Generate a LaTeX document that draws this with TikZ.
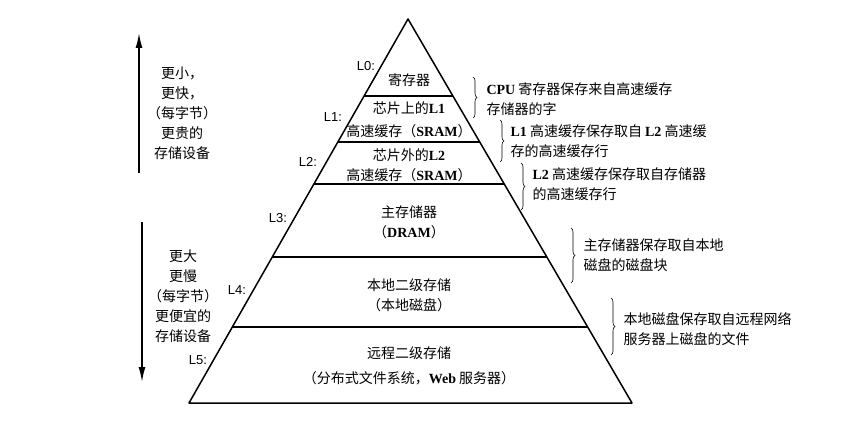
\documentclass[tikz,border=0pt]{standalone}
\usepackage{fontspec}
\setmainfont{Liberation Serif}
\newfontfamily\cjk{Noto Sans CJK SC}
\newfontfamily\lvlfont{Liberation Sans}
\newcommand{\enb}[1]{{\rmfamily\bfseries #1}}
\usetikzlibrary{arrows.meta, calc, decorations.pathreplacing}

\begin{document}
\begin{tikzpicture}[x=1pt, y=-1pt,
    edge/.style={line width=1.5pt},
    lvl/.style={font=\lvlfont\fontsize{13}{13}\selectfont},
    txt/.style={font=\cjk\fontsize{14}{20}\selectfont, align=center},
    note/.style={font=\cjk\fontsize{14}{20}\selectfont, align=left, anchor=west},
    brc/.style={decorate, decoration={brace, amplitude=4pt}, line width=0.6pt},
    bigarrow/.style={line width=1.5pt, -{Latex[length=15pt, width=7pt]}}]
    \useasboundingbox (0, 0) rectangle (846, 428);

    \coordinate (apex) at (408, 19);
    \coordinate (bl) at (189, 403);
    \coordinate (br) at (632, 403);
    \draw[edge, line join=round] (apex) -- (br) -- (bl) -- cycle;
    \foreach \f in {0.2005, 0.3203, 0.4297, 0.6198, 0.8021}
        \draw[edge] ($(apex)!\f!(bl)$) -- ($(apex)!\f!(br)$);

    \node[lvl] (L0) at (366, 66) {L0:};
    \node[lvl] (L1) at (333, 117) {L1:};
    \node[lvl] (L2) at (308, 162) {L2:};
    \node[lvl] (L3) at (278, 218) {L3:};
    \node[lvl] (L4) at (237, 290) {L4:};
    \node[lvl] (L5) at (198, 360) {L5:};

    \node[txt] (t0) at (409, 80) {寄存器};
    \node[txt] (t1) at (409, 120) {芯片上的\enb{L1}\\[3pt]高速缓存（\enb{SRAM}）};
    \node[txt] (t2) at (409, 165) {芯片外的\enb{L2}\\高速缓存（\enb{SRAM}）};
    \node[txt] (t3) at (409, 222) {主存储器\\（\enb{DRAM}）};
    \node[txt] (t4) at (409, 295.5) {本地二级存储\\（本地磁盘）};
    \node[txt] (t5) at (409, 365.5) {远程二级存储\\[5pt]（分布式文件系统，\enb{Web} 服务器）};

    \coordinate (b0t) at (473, 77);
    \coordinate (b0b) at (473, 118);
    \coordinate (b1t) at (500, 120);
    \coordinate (b1b) at (500, 162);
    \coordinate (b2t) at (521, 163);
    \coordinate (b2b) at (521, 210);
    \coordinate (b3t) at (571, 228);
    \coordinate (b3b) at (571, 283);
    \coordinate (b4t) at (611, 298);
    \coordinate (b4b) at (611, 355);
    \draw[brc] (b0t) -- (b0b);
    \draw[brc] (b1t) -- (b1b);
    \draw[brc] (b2t) -- (b2b);
    \draw[brc] (b3t) -- (b3b);
    \draw[brc] (b4t) -- (b4b);

    \node[note] (n0) at (483, 99.5) {\enb{CPU} 寄存器保存来自高速缓存\\存储器的字};
    \node[note] (n1) at (507, 141) {\enb{L1} 高速缓存保存取自 \enb{L2} 高速缓\\存的高速缓存行};
    \node[note] (n2) at (529, 184.5) {\enb{L2} 高速缓存保存取自存储器\\的高速缓存行};
    \node[note] (n3) at (580, 255) {主存储器保存取自本地\\磁盘的磁盘块};
    \node[note] (n4) at (620, 329) {本地磁盘保存取自远程网络\\服务器上磁盘的文件};

    \coordinate (ut) at (139, 173);
    \coordinate (uh) at (139, 33);
    \coordinate (dt) at (142, 222);
    \coordinate (dh) at (142, 382);
    \draw[bigarrow] (ut) -- (uh);
    \draw[bigarrow] (dt) -- (dh);

    \node[txt] (up) at (182, 113) {更小，\\更快，\\（每字节）\\更贵的\\存储设备};
    \node[txt] (down) at (183, 296.5) {更大\\更慢\\（每字节）\\更便宜的\\存储设备};
\end{tikzpicture}
\end{document}
